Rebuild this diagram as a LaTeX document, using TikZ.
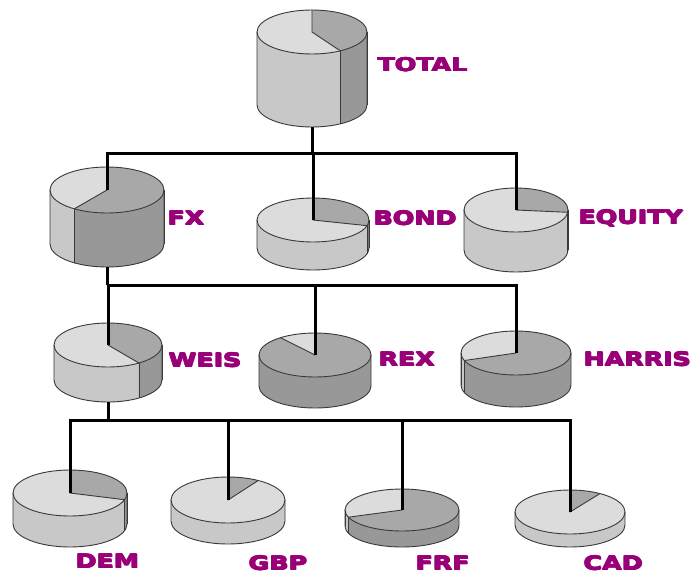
\documentclass[tikz,border=0pt]{standalone}
\usepackage{fontspec}
\newfontfamily\labelfont{DejaVu Sans Bold}[FakeStretch=1.33]
\definecolor{Ltop}{HTML}{DCDCDC}
\definecolor{Lside}{HTML}{C8C8C8}
\definecolor{Dtop}{HTML}{A8A8A8}
\definecolor{Dside}{HTML}{989898}
\definecolor{lbl}{HTML}{990077}
\definecolor{rim}{HTML}{3A3A3A}

% extra-heavy lettering: the word overprinted with small shifts
\newcommand\heavy[1]{%
  \makebox[0pt][l]{\kern0.6pt#1}%
  \makebox[0pt][l]{\kern1.2pt#1}%
  \makebox[0pt][l]{\kern0.6pt\raisebox{0.5pt}{#1}}%
  \makebox[0pt][l]{\raisebox{0.5pt}{#1}}%
  #1\kern1.2pt}

\tikzset{
  rimline/.style={draw=rim,line width=0.9pt,line join=round},
  conn/.style={draw=black,line width=3pt,line join=miter},
  tag/.style={text=lbl,font=\labelfont\fontsize{19}{20}\selectfont,anchor=base west,inner sep=0pt}
}

% front strip of the cylinder wall between angles #4 and #5
\newcommand\piestrip[6]{%
  \fill[#6] (#4:#1pt and #2pt) -- ++(0,-#3)
    arc[start angle=#4,end angle=#5,x radius=#1pt,y radius=#2pt] -- ++(0,#3)
    arc[start angle=#5,end angle=#4,x radius=#1pt,y radius=#2pt] -- cycle;
  \draw[rimline] (#4:#1pt and #2pt) -- ++(0,-#3);
  \draw[rimline] (#5:#1pt and #2pt) -- ++(0,-#3);
}

% 3-D pie: centre x, centre y (from top), x radius, y radius, height,
% slice start, slice end, base colour (L or D), name
\newcommand\pie[9]{%
  \begin{scope}[shift={(#1,574-#2)}]
    \if#8L\def\slc{D}\else\def\slc{L}\fi
    \fill[#8side] (-#3,0) -- (-#3,-#5)
      arc[start angle=180,end angle=360,x radius=#3pt,y radius=#4pt] -- (#3,0)
      arc[start angle=0,end angle=-180,x radius=#3pt,y radius=#4pt] -- cycle;
    \pgfmathsetmacro\sA{max(#6,-180)}\pgfmathsetmacro\sB{min(#7,0)}
    \pgfmathtruncatemacro\ok{\sB>\sA}
    \ifnum\ok=1 \piestrip{#3}{#4}{#5}{\sA}{\sB}{\slc side}\fi
    \pgfmathsetmacro\sA{max(#6-360,-180)}\pgfmathsetmacro\sB{min(#7-360,0)}
    \pgfmathtruncatemacro\ok{\sB>\sA}
    \ifnum\ok=1 \piestrip{#3}{#4}{#5}{\sA}{\sB}{\slc side}\fi
    \fill[#8top] (0,0) ellipse[x radius=#3pt,y radius=#4pt];
    \fill[\slc top] (0,0) -- (#6:#3pt and #4pt)
      arc[start angle=#6,end angle=#7,x radius=#3pt,y radius=#4pt] -- cycle;
    \draw[rimline] (0,0) ellipse[x radius=#3pt,y radius=#4pt];
    \draw[rimline] (-#3,0) -- (-#3,-#5)
      arc[start angle=180,end angle=360,x radius=#3pt,y radius=#4pt] -- (#3,0);
    \draw[rimline] (#6:#3pt and #4pt) -- (0,0) -- (#7:#3pt and #4pt);
    \coordinate (#9) at (0,0);
    \coordinate (#9-b) at (0,{-#4-#5});
  \end{scope}
}

\begin{document}
\begin{tikzpicture}[x=1pt,y=1pt]
  \fill[white] (0,0) rectangle (692,574);
  \useasboundingbox (0,0) rectangle (692,574);

  % pies
  \pie{312}{32}{55}{22}{73}{-59}{90}{L}{total}
  \pie{107}{190}{57}{23}{54}{-125}{90}{L}{fx}
  \pie{313}{220}{56}{22}{28}{-15}{90}{L}{bond}
  \pie{516}{210}{52}{22}{40}{-6}{90}{L}{equity}
  \pie{108}{345}{54}{22}{35}{-55}{90}{L}{weis}
  \pie{315}{355}{56}{22}{31}{90}{128}{D}{rex}
  \pie{516}{353}{55}{22}{32}{90}{200}{D}{harris}
  \pie{70}{493}{57}{23}{31}{-17}{90}{L}{dem}
  \pie{228}{500}{57}{23}{21}{58}{90}{L}{gbp}
  \pie{402}{510}{57}{21}{16}{90}{200}{D}{frf}
  \pie{570}{512}{55}{22}{13}{57}{90}{L}{cad}

  % bus levels
  \coordinate (bus1) at (0,574-153);
  \coordinate (bus2) at (0,574-285);
  \coordinate (bus3) at (0,574-420);

  % connectors
  \draw[conn] (total-b) -- (total-b |- bus1);
  \draw[conn] (fx) -- (fx |- bus1) -- (equity |- bus1) -- (equity);
  \draw[conn] (bond |- bus1) -- (bond);
  \draw[conn] (fx-b) -- (fx-b |- bus2);
  \draw[conn] (weis) -- (weis |- bus2) -- (harris |- bus2) -- (harris);
  \draw[conn] (rex |- bus2) -- (rex);
  \draw[conn] (weis-b) -- (weis-b |- bus3);
  \draw[conn] (dem) -- (dem |- bus3) -- (cad |- bus3) -- (cad);
  \draw[conn] (gbp |- bus3) -- (gbp);
  \draw[conn] (frf |- bus3) -- (frf);

  % labels
  \node[tag] (t-total)  at (377,574-72)  {\heavy{TOTAL}};
  \node[tag] (t-fx)     at (167,574-225) {\heavy{FX}};
  \node[tag] (t-bond)   at (373,574-225) {\heavy{BOND}};
  \node[tag] (t-equity) at (578,574-224) {\heavy{EQUITY}};
  \node[tag] (t-weis)   at (168,574-367) {\heavy{WEIS}};
  \node[tag] (t-rex)    at (378,574-366) {\heavy{REX}};
  \node[tag] (t-harris) at (583,574-366) {\heavy{HARRIS}};
  \node[tag] (t-dem)    at (75,574-568)  {\heavy{DEM}};
  \node[tag] (t-gbp)    at (248,574-570) {\heavy{GBP}};
  \node[tag] (t-frf)    at (415,574-570) {\heavy{FRF}};
  \node[tag] (t-cad)    at (583,574-570) {\heavy{CAD}};
\end{tikzpicture}
\end{document}
